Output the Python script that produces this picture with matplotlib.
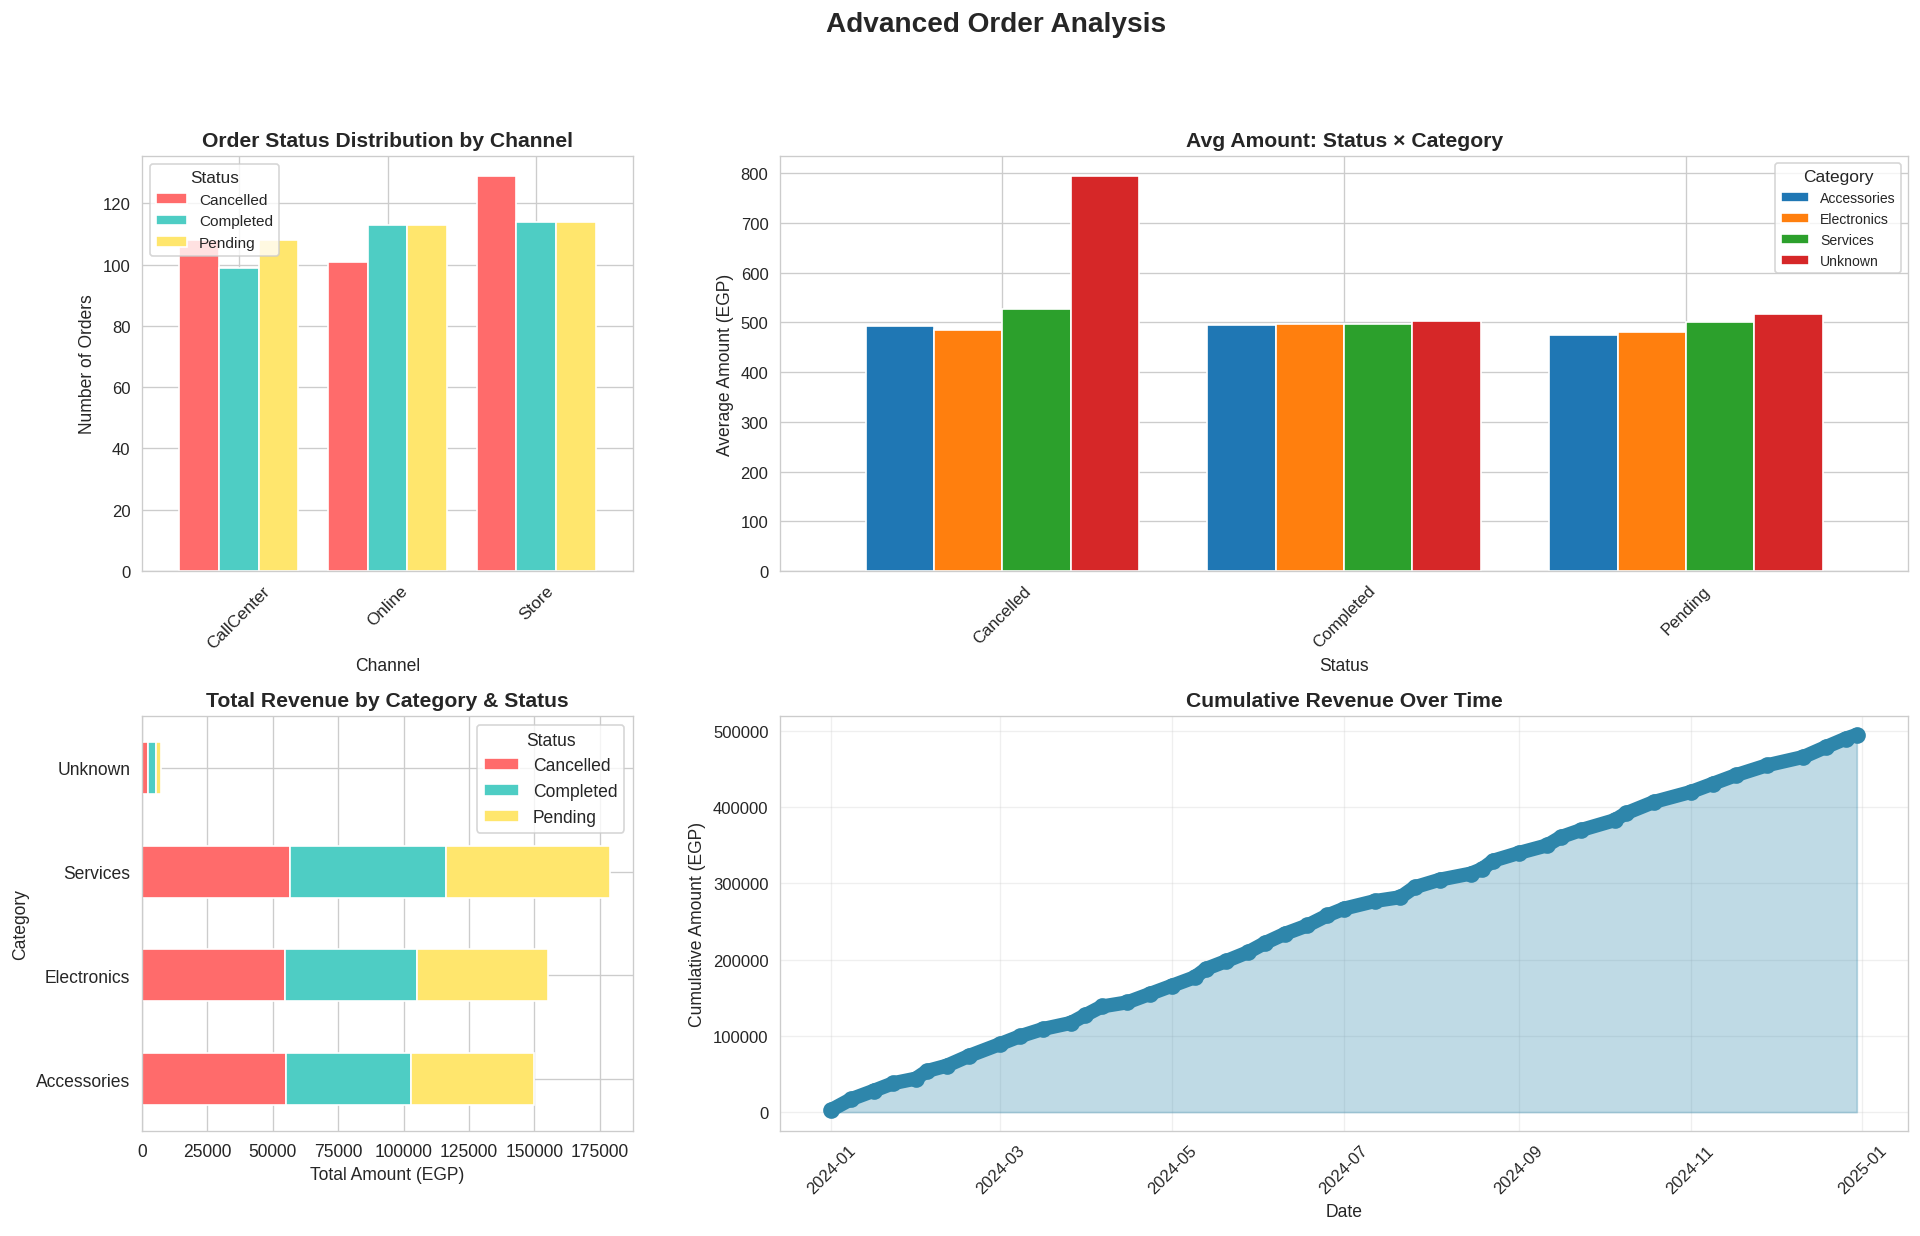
import matplotlib
matplotlib.use("Agg")
import matplotlib.pyplot as plt
import matplotlib.dates as mdates
import pandas as pd
import seaborn as sns

sns.set_style("whitegrid")
plt.rcParams['font.family'] = ['Liberation Sans', 'DejaVu Sans']

channels = ["CallCenter", "Online", "Store"]
statuses = ["Cancelled", "Completed", "Pending"]
categories = ["Accessories", "Electronics", "Services", "Unknown"]
status_colors = ["#FF6B6B", "#4ECDC4", "#FFE66D"]

# number of orders per channel, one list per status
orders_cancelled = [108, 101, 129]
orders_completed = [99, 113, 114]
orders_pending = [108, 113, 114]

# average amount per status (Cancelled, Completed, Pending), one list per category
avg_accessories = [493, 495, 474]
avg_electronics = [484, 497, 481]
avg_services = [527, 497, 501]
avg_unknown = [795, 503, 517]

# total revenue per category, one list per status
rev_cancelled = [55200, 54800, 56500, 2400]
rev_completed = [47600, 50300, 59700, 2900]
rev_pending = [47000, 50000, 62600, 2000]

# cumulative revenue
cum_dates = ["2024-01-01", "2024-01-08", "2024-01-16", "2024-01-23", "2024-01-31",
             "2024-02-04", "2024-02-11", "2024-02-19", "2024-03-01", "2024-03-08",
             "2024-03-16", "2024-03-26", "2024-03-31", "2024-04-06", "2024-04-15",
             "2024-04-23", "2024-05-01", "2024-05-09", "2024-05-13", "2024-05-20",
             "2024-05-28", "2024-06-03", "2024-06-10", "2024-06-18", "2024-06-25",
             "2024-07-01", "2024-07-12", "2024-07-21", "2024-07-26", "2024-08-04",
             "2024-08-15", "2024-08-19", "2024-08-23", "2024-09-01", "2024-09-11",
             "2024-09-16", "2024-09-23", "2024-10-05", "2024-10-09", "2024-10-19",
             "2024-11-01", "2024-11-09", "2024-11-17", "2024-11-28", "2024-12-11",
             "2024-12-19", "2024-12-26", "2024-12-30"]
cum_amount = [3000, 17000, 28000, 38000, 44000,
              54000, 61000, 74000, 89500, 99600,
              109000, 117000, 127000, 138600, 144000,
              155000, 166000, 177000, 188000, 198000,
              210000, 222000, 234000, 245000, 258000,
              267000, 277000, 282000, 295000, 305000,
              313000, 319000, 330000, 340000, 350000,
              361000, 370000, 383000, 392000, 407000,
              420000, 431000, 442000, 455000, 466000,
              479000, 490000, 495000]

fig = plt.figure(figsize=(16, 10.308), dpi=120)
fig.suptitle("Advanced Order Analysis", fontsize=16.8, fontweight="bold",
             x=0.519, y=0.99, va="top")

ax1 = fig.add_axes([0.074, 0.5376, 0.2557, 0.3355])
ax2 = fig.add_axes([0.4063, 0.5376, 0.5875, 0.3355])
ax3 = fig.add_axes([0.074, 0.0849, 0.2557, 0.3355])
ax4 = fig.add_axes([0.4063, 0.0849, 0.5875, 0.3355])

# 1. order status by channel
df1 = pd.DataFrame({"Cancelled": orders_cancelled, "Completed": orders_completed,
                    "Pending": orders_pending}, index=channels)
df1.plot(kind="bar", ax=ax1, color=status_colors, width=0.8)
ax1.set_xlim(-0.65, 2.65)
ax1.set_title("Order Status Distribution by Channel", fontsize=12.65, fontweight="bold")
ax1.set_xlabel("Channel", fontsize=10.5)
ax1.set_ylabel("Number of Orders", fontsize=10.5)
ax1.tick_params(axis="x", rotation=45, labelsize=10.3)
ax1.tick_params(axis="y", labelsize=10)
ax1.legend(title="Status", loc="upper left", fontsize=9.25, title_fontsize=10.25)

# 2. avg amount status x category
df2 = pd.DataFrame({"Accessories": avg_accessories, "Electronics": avg_electronics,
                    "Services": avg_services, "Unknown": avg_unknown}, index=statuses)
df2.plot(kind="bar", ax=ax2, width=0.8)
ax2.set_xlim(-0.65, 2.65)
ax2.set_title("Avg Amount: Status × Category", fontsize=12.65, fontweight="bold")
ax2.set_xlabel("Status", fontsize=10.5)
ax2.set_ylabel("Average Amount (EGP)", fontsize=10.5)
ax2.tick_params(axis="x", rotation=45, labelsize=10)
ax2.tick_params(axis="y", labelsize=10)
ax2.legend(title="Category", loc="upper right", fontsize=8.4, title_fontsize=10.4)

# 3. total revenue by category & status
df3 = pd.DataFrame({"Cancelled": rev_cancelled, "Completed": rev_completed,
                    "Pending": rev_pending}, index=categories)
df3.plot(kind="barh", stacked=True, ax=ax3, color=status_colors, width=0.5)
ax3.set_xlim(left=0)
ax3.set_title("Total Revenue by Category & Status", fontsize=12.65, fontweight="bold")
ax3.set_xlabel("Total Amount (EGP)", fontsize=10.5)
ax3.set_ylabel("Category", fontsize=10.5)
ax3.tick_params(labelsize=10.5)
ax3.legend(title="Status", loc="upper right", fontsize=10.5, title_fontsize=10.5)

# 4. cumulative revenue
dates = pd.to_datetime(cum_dates)
ax4.plot(dates, cum_amount, color="#2E86AB", marker="o", markersize=9,
         linewidth=8.5, solid_capstyle="round")
ax4.fill_between(dates, cum_amount, alpha=0.3, color="#2E86AB")
ax4.set_title("Cumulative Revenue Over Time", fontsize=12.65, fontweight="bold")
ax4.set_xlabel("Date", fontsize=10.5)
ax4.set_ylabel("Cumulative Amount (EGP)", fontsize=10.5)
ax4.xaxis.set_major_locator(mdates.MonthLocator(bymonth=[1, 3, 5, 7, 9, 11]))
ax4.xaxis.set_major_formatter(mdates.DateFormatter("%Y-%m"))
ax4.tick_params(axis="x", rotation=45, labelsize=10)
ax4.tick_params(axis="y", labelsize=10)
ax4.grid(True, alpha=0.3)

fig.savefig("out.png", dpi=120)
